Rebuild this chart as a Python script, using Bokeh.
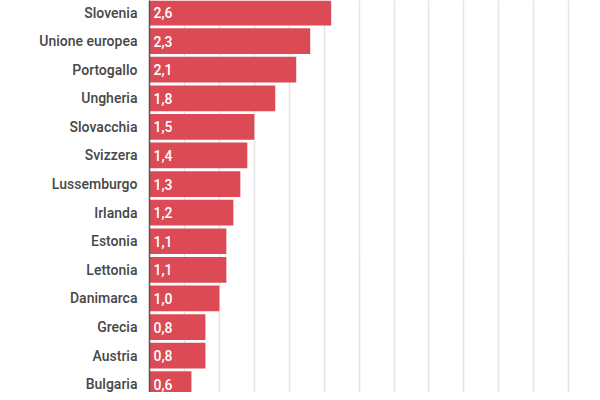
from bokeh.plotting import figure
from bokeh.models import ColumnDataSource, Range1d, SingleIntervalTicker, FixedTicker
from bokeh.core.properties import value
from bokeh.embed import file_html
from bokeh.resources import INLINE

countries = ["Slovenia", "Unione europea", "Portogallo", "Ungheria", "Slovacchia",
             "Svizzera", "Lussemburgo", "Irlanda", "Estonia", "Lettonia",
             "Danimarca", "Grecia", "Austria", "Bulgaria"]
values = [2.6, 2.3, 2.1, 1.8, 1.5, 1.4, 1.3, 1.2, 1.1, 1.1, 1.0, 0.8, 0.8, 0.6]

pos = list(range(len(countries)))
labels = [f"{v:.1f}".replace(".", ",") for v in values]

src = ColumnDataSource(dict(y=pos, v=values, lab=labels, zero=[0] * len(values)))

FONT = "Roboto Medium, Roboto"

p = figure(width=592, height=392, output_backend="svg", toolbar_location=None,
           x_range=Range1d(0, 6.34), y_range=Range1d(13.29, -0.42),
           min_border_left=149, min_border_right=0, min_border_top=0, min_border_bottom=0)
p.outline_line_color = None

p.hbar(y="y", left=0, right="v", height=0.9, source=src,
       fill_color="#db4a55", line_color=None)
p.text(x="zero", y="y", text="lab", source=src, x_offset=4,
       text_align="left", text_baseline="middle", text_color="white",
       text_font=value(FONT), text_font_size="14px")

p.xaxis.visible = False
p.xgrid.ticker = SingleIntervalTicker(interval=0.5)
p.xgrid.grid_line_color = "#e4e4e4"
p.xgrid.grid_line_width = 1.5
p.ygrid.visible = False

p.yaxis.ticker = FixedTicker(ticks=pos)
p.yaxis.major_label_overrides = {i: c for i, c in zip(pos, countries)}
p.yaxis.major_tick_line_color = None
p.yaxis.minor_tick_line_color = None
p.yaxis.axis_line_color = "#555555"
p.yaxis.axis_line_width = 1.5
p.yaxis.major_label_standoff = 6
p.yaxis.major_label_text_font = FONT
p.yaxis.major_label_text_font_size = "14px"
p.yaxis.major_label_text_color = "#484848"
p.yaxis.major_label_text_font_style = "normal"

open("out.html", "w").write(file_html(p, INLINE))
